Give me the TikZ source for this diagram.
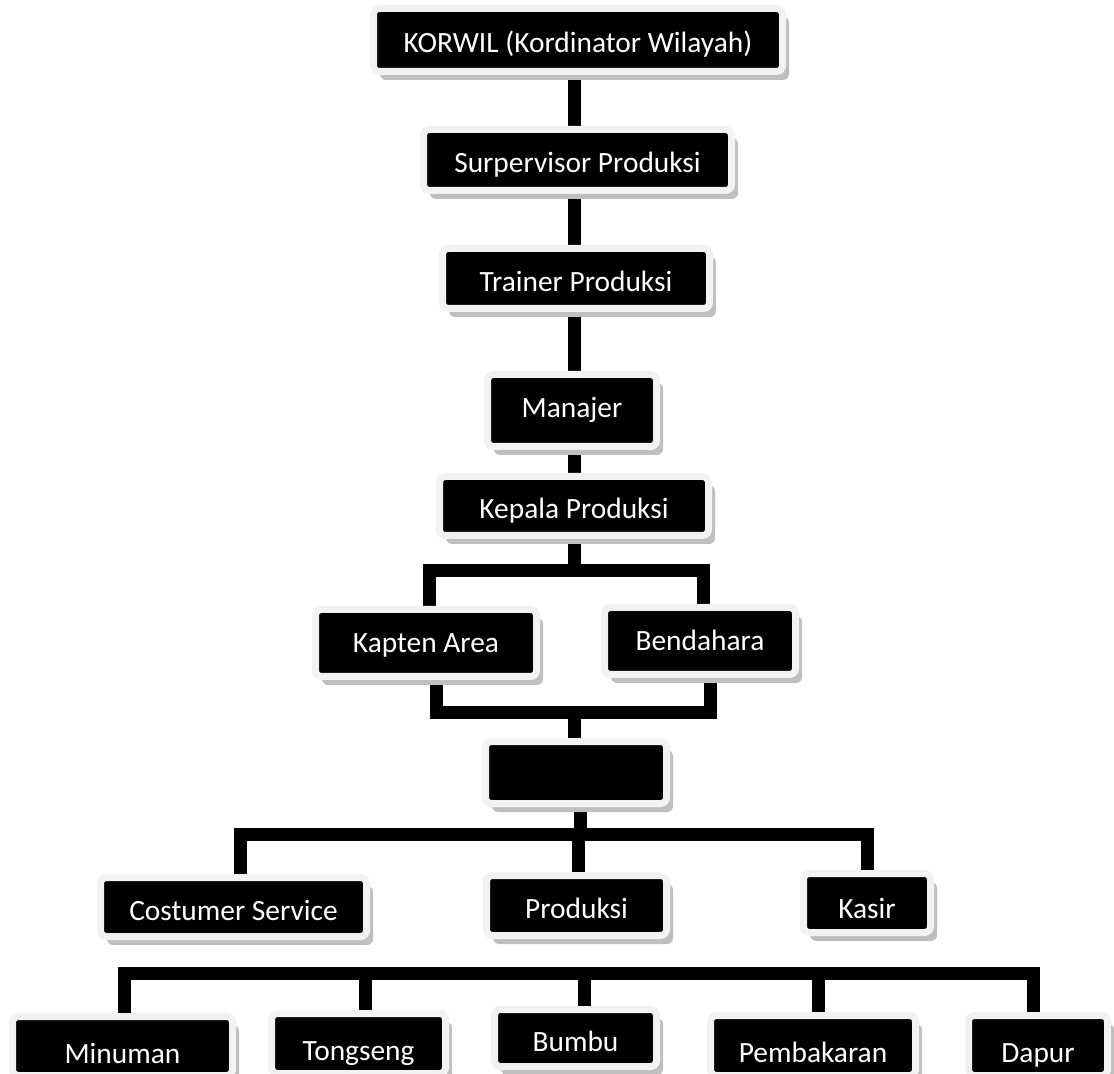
\documentclass[tikz,border=0pt]{standalone}
\usepackage{fontspec}
\newfontfamily\orgfont{Carlito}
\usepackage{tikz}
\usetikzlibrary{shadows}

\definecolor{rimgray}{HTML}{F2F2F2}
\definecolor{shadegray}{HTML}{BFBFBF}

\pgfdeclarelayer{background}
\pgfsetlayers{background,main}

\tikzset{
    orgbox/.style={draw=rimgray, line width=3.5pt, fill=black, text=white,
        rounded corners=3pt, inner sep=0pt,
        font=\orgfont\fontsize{14.7pt}{17.5pt}\selectfont,
        text height=13pt, text depth=0pt,
        drop shadow={shadow xshift=3.25pt, shadow yshift=-4.25pt, fill=shadegray, opacity=1}},
    lowbox/.style={orgbox, text height=17pt},
    link/.style={line width=6.5pt, line join=miter},
}

\begin{document}
\begin{tikzpicture}[x=0.5pt, y=-0.5pt]
    \useasboundingbox (0,0) rectangle (1114,1074);

    % chain of command
    \node[orgbox, minimum width=204.5pt, minimum height=31.5pt] (korwil) at (578,40) {KORWIL (Kordinator Wilayah)};
    \node[orgbox, minimum width=154pt, minimum height=30.5pt] (spv) at (577.5,160) {Surpervisor Produksi};
    \node[orgbox, minimum width=133.5pt, minimum height=30pt] (trainer) at (576,278.5) {Trainer Produksi};
    \node[orgbox, minimum width=84.5pt, minimum height=36pt, text height=7pt] (manajer) at (572,410.5) {Manajer};
    \node[orgbox, minimum width=134.5pt, minimum height=29.5pt] (kepala) at (574,506) {Kepala Produksi};

    % kapten and bendahara
    \node[orgbox, minimum width=110.5pt, minimum height=33.5pt, text height=10pt] (kapten) at (426,643) {Kapten Area};
    \node[orgbox, minimum width=95.5pt, minimum height=33.5pt, text height=10pt] (bendahara) at (700,641) {Bendahara};
    \node[orgbox, minimum width=90.5pt, minimum height=31pt] (blank) at (576,772.5) {};

    % service row
    \node[orgbox, minimum width=133pt, minimum height=29.5pt] (cs) at (233.5,907) {Costumer Service};
    \node[orgbox, minimum width=90pt, minimum height=30pt] (produksi) at (576.5,905.5) {Produksi};
    \node[orgbox, minimum width=63.5pt, minimum height=29.5pt, text height=15pt] (kasir) at (867,903) {Kasir};

    % stations
    \node[lowbox, minimum width=110pt, minimum height=29.5pt] (minuman) at (122.5,1046) {Minuman};
    \node[lowbox, minimum width=87pt, minimum height=30pt] (tongseng) at (358.5,1043.5) {Tongseng};
    \node[orgbox, minimum width=81pt, minimum height=28.5pt] (bumbu) at (575.5,1038) {Bumbu};
    \node[lowbox, minimum width=102.5pt, minimum height=30pt] (pembakaran) at (813,1045.5) {Pembakaran};
    \node[lowbox, minimum width=69.5pt, minimum height=30pt] (dapur) at (1038,1045.5) {Dapur};

    \begin{pgfonlayer}{background}
        \coordinate (spine) at (574,0);
        \coordinate (busA) at (0,570.5);
        \coordinate (busB) at (0,712.5);
        \coordinate (busC) at (0,834.5);
        \coordinate (busD) at (0,973);

        \draw[link] (korwil.south -| spine) -- (spv.north -| spine);
        \draw[link] (spv.south -| spine) -- (trainer.north -| spine);
        \draw[link] (trainer.south -| spine) -- (manajer.north -| spine);
        \draw[link] (manajer.south -| spine) -- (kepala.north -| spine);

        % split under kepala
        \draw[link] (kepala.south -| spine) -- (spine |- busA);
        \draw[link] ([xshift=1.75pt]kapten.north) -- ([xshift=1.75pt]kapten.north |- busA)
            -- ([xshift=1.5pt]bendahara.north |- busA) -- ([xshift=1.5pt]bendahara.north);

        % join into blank box
        \draw[link] ([xshift=5.25pt]kapten.south) -- ([xshift=5.25pt]kapten.south |- busB)
            -- ([xshift=5pt]bendahara.south |- busB) -- ([xshift=5pt]bendahara.south);
        \draw[link] (spine |- busB) -- (blank.north -| spine);

        % service row
        \draw[link] ([xshift=2pt]blank.south) -- ([xshift=2pt]blank.south |- busC);
        \draw[link] ([xshift=3.5pt]cs.north) -- ([xshift=3.5pt]cs.north |- busC)
            -- (kasir.north |- busC) -- (kasir.north);
        \draw[link] ([xshift=1pt]produksi.north) -- ([xshift=1pt]produksi.north |- busC);

        % stations
        \draw[link] ([xshift=0.75pt]minuman.north) -- ([xshift=0.75pt]minuman.north |- busD)
            -- ([xshift=-2.5pt]dapur.north |- busD) -- ([xshift=-2.5pt]dapur.north);
        \foreach \n/\s in {tongseng/3.5pt, bumbu/4.25pt, pembakaran/2.75pt}
            \draw[link] ([xshift=\s]\n.north) -- ([xshift=\s]\n.north |- busD);
    \end{pgfonlayer}
\end{tikzpicture}
\end{document}
